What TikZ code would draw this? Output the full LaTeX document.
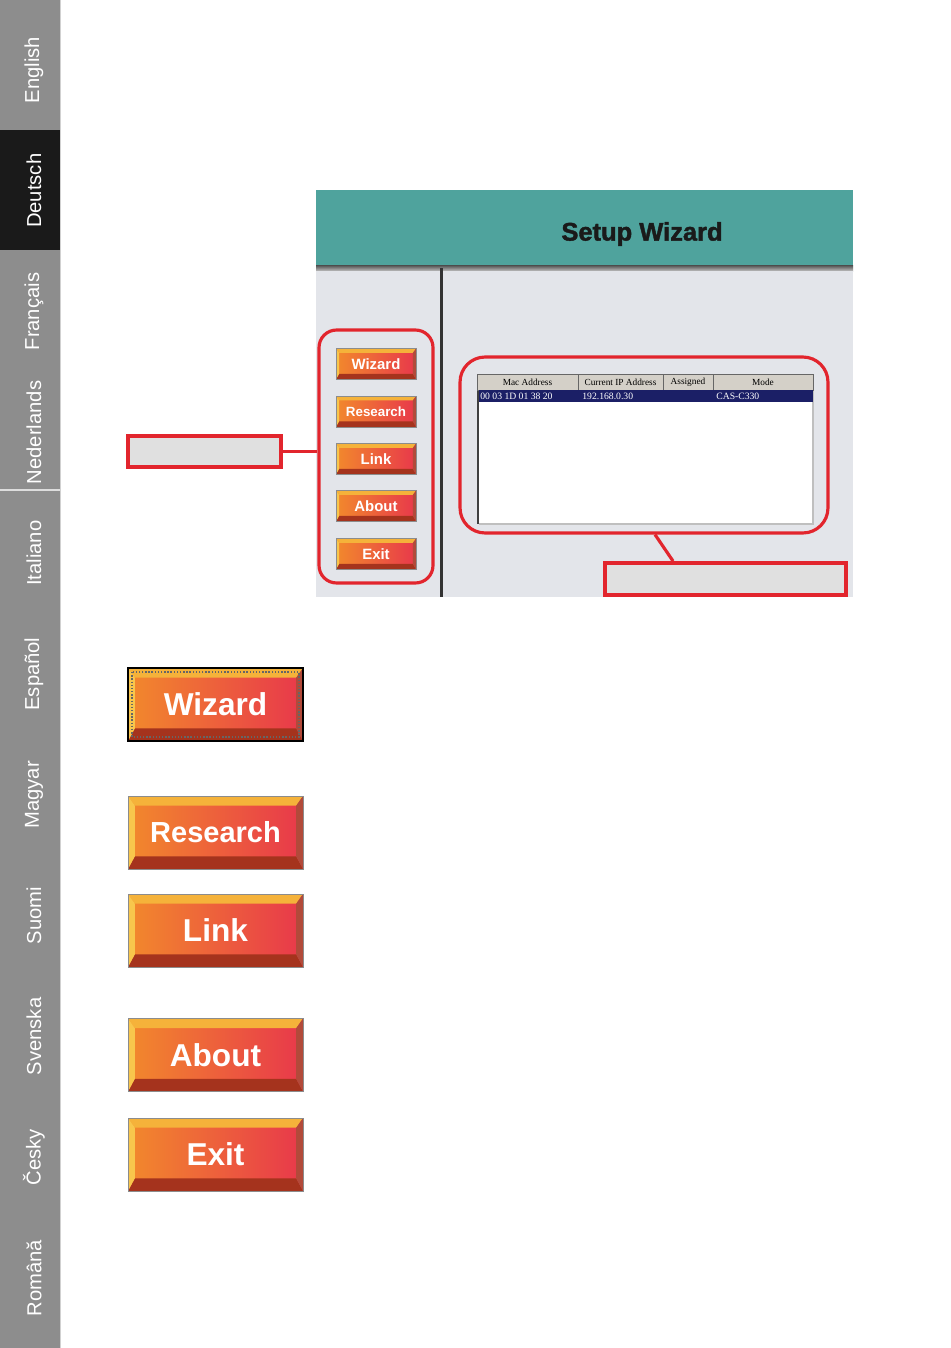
\documentclass[tikz,border=0pt]{standalone}
\usepackage{fontspec}
\setmainfont{Liberation Sans}
\newfontfamily\tblfont{Liberation Serif}
\newfontfamily\heavyfont[BoldFeatures={FakeBold=1.6}]{Liberation Sans}
\usetikzlibrary{positioning,calc}
\definecolor{tabgray}{HTML}{8D8D8D}
\definecolor{tabblack}{HTML}{1A1A1A}
\definecolor{headteal}{HTML}{4FA39D}
\definecolor{panelgray}{HTML}{E3E5EA}
\definecolor{calred}{HTML}{E2252D}
\definecolor{lblgray}{HTML}{E0E0E0}
\definecolor{btnleft}{HTML}{F2892C}
\definecolor{btnright}{HTML}{E8384B}
\definecolor{btntop}{HTML}{F5B23A}
\definecolor{btnbot}{HTML}{A5331D}
\definecolor{btnlside}{HTML}{F8C64C}
\definecolor{btnrside}{HTML}{B24A3A}
\definecolor{hdrgray}{HTML}{D4D0C8}
\definecolor{rowsel}{HTML}{1B1F66}
\tikzset{
  langtab/.style = {rotate=90, text=white, inner sep=0pt,
    font=\fontsize{11.5}{12}\selectfont},
  btn/.style = {rectangle, inner sep=0pt, text=white, draw=black!45,
    left color=btnleft, right color=btnright, font=\bfseries,
    path picture={
      \fill[btntop] (path picture bounding box.north west)
        -- (path picture bounding box.north east)
        -- ([shift={(-0.7*#1,-#1)}]path picture bounding box.north east)
        -- ([shift={(0.7*#1,-#1)}]path picture bounding box.north west) -- cycle;
      \fill[btnbot] (path picture bounding box.south west)
        -- (path picture bounding box.south east)
        -- ([shift={(-0.7*#1,1.3*#1)}]path picture bounding box.south east)
        -- ([shift={(0.7*#1,1.3*#1)}]path picture bounding box.south west) -- cycle;
      \fill[btnlside] (path picture bounding box.north west)
        -- ([shift={(0.7*#1,-#1)}]path picture bounding box.north west)
        -- ([shift={(0.7*#1,1.3*#1)}]path picture bounding box.south west)
        -- (path picture bounding box.south west) -- cycle;
      \fill[btnrside] (path picture bounding box.north east)
        -- ([shift={(-0.7*#1,-#1)}]path picture bounding box.north east)
        -- ([shift={(-0.7*#1,1.3*#1)}]path picture bounding box.south east)
        -- (path picture bounding box.south east) -- cycle;
    }},
  smallbtn/.style = {btn=2.5pt, minimum width=1.6cm, minimum height=0.62cm},
  bigbtn/.style = {btn=5.5pt, minimum width=3.5cm, minimum height=1.46cm},
  ring/.style = {draw=calred, line width=1.8pt, inner sep=0pt},
  callbox/.style = {draw=calred, line width=2.2pt, fill=lblgray, inner sep=0pt},
  callline/.style = {draw=calred, line width=1.8pt},
  tblhead/.style = {inner sep=0pt, font=\tblfont\fontsize{5.3}{6}\selectfont},
  tblcell/.style = {inner sep=0pt, anchor=west, text=white,
    font=\tblfont\fontsize{5.5}{6}\selectfont},
  wiztitle/.style = {inner sep=0pt, text=tabblack,
    font=\heavyfont\bfseries\fontsize{14.5}{16}\selectfont}
}
\begin{document}
\begin{tikzpicture}[x=0.02cm,y=-0.02cm]
\useasboundingbox[fill=white] (0,0) rectangle (950,1348);
% language tabs
\fill[tabgray] (0,0) rectangle (60,1348);
\fill[tabblack] (0,130) rectangle (60,250);
\draw[white!70!tabgray, line width=0.6pt] (0,490) -- (60,490);
\draw[white!60!tabgray, line width=0.6pt] (60.5,0) -- (60.5,1348);
\foreach \lang [count=\i] in {English,Deutsch,Français,Nederlands,Italiano,Español,Magyar,Suomi,Svenska,Česky,Română}
  \node[langtab] (tab\i) at (34,{70+120.8*(\i-1)}) {\lang};

% screenshot of the wizard
\fill[headteal] (316,190) rectangle (853,268);
\shade[top color=black!70, bottom color=black!25] (316,265) rectangle (853,271);
\fill[panelgray] (316,271) rectangle (853,597);
\fill[black!80] (440,268) rectangle (443,597);
\node[wiztitle] (title) at (642,234) {Setup Wizard};

% table
\fill[white] (477,374) rectangle (813,524);
\draw[black!75, line width=1pt] (478,374) -- (478,524);
\draw[black!25, line width=0.8pt] (479,524) -- (813,524) -- (813,390);
\foreach \a/\b/\t [count=\i] in {477/578/Mac Address,578/663/Current IP Address,663/713/Assigned,713/813/Mode}{
  \fill[hdrgray] (\a,374) rectangle (\b,390);
  \draw[black!60, line width=0.4pt] (\a,374) rectangle (\b,390);
  \node[tblhead] (hd\i) at ({(\a+\b)/2},382.5) {\t};
}
\fill[rowsel] (479,390) rectangle (813,402);
\node[tblcell] (mac) at (480,396) {00 03 1D 01 38 20};
\node[tblcell] (ip) at (582,396) {192.168.0.30};
\node[tblcell] (mode) at (716,396) {CAS-C330};

% small buttons
\foreach \nm/\lbl/\y/\fs in {wiz/Wizard/364/8.5,res/Research/411.5/7.6,lnk/Link/459/8.5,abt/About/506/8.5,ext/Exit/554/8.5}
  \node[smallbtn, font=\bfseries\fontsize{\fs}{\fs}\selectfont] (s\nm) at (376,\y) {\lbl};

% callouts
\node[ring, minimum width=2.28cm, minimum height=5.06cm, rounded corners=0.35cm] (ringbtns) at (376,456.5) {};
\node[ring, minimum width=7.36cm, minimum height=3.52cm, rounded corners=0.5cm] (ringlist) at (644,445) {};
\node[callbox, minimum width=3.06cm, minimum height=0.62cm] (lblbtns) at (204.5,451.5) {};
\node[callbox, minimum width=4.82cm, minimum height=0.64cm] (lbllist) at (725.5,579) {};
\draw[callline] (lblbtns.east) -- (lblbtns.east -| ringbtns.west);
\draw[callline] ([xshift=0.22cm]ringlist.south) -- ([xshift=-1.05cm]lbllist.north);

% large buttons
\foreach \nm/\lbl/\y/\fs in {wiz/Wizard/704.5/18,res/Research/832.5/16.5,lnk/Link/930.5/18,abt/About/1055/18,ext/Exit/1154.5/18}
  \node[bigbtn, font=\bfseries\fontsize{\fs}{\fs}\selectfont] (b\nm) at (215.5,\y) {\lbl};
\draw[black, line width=1.2pt] (bwiz.north west) rectangle (bwiz.south east);
\draw[black!60, densely dotted, line width=0.8pt] ([shift={(2.5pt,-2.5pt)}]bwiz.north west) rectangle ([shift={(-2.5pt,2.5pt)}]bwiz.south east);
\end{tikzpicture}
\end{document}
